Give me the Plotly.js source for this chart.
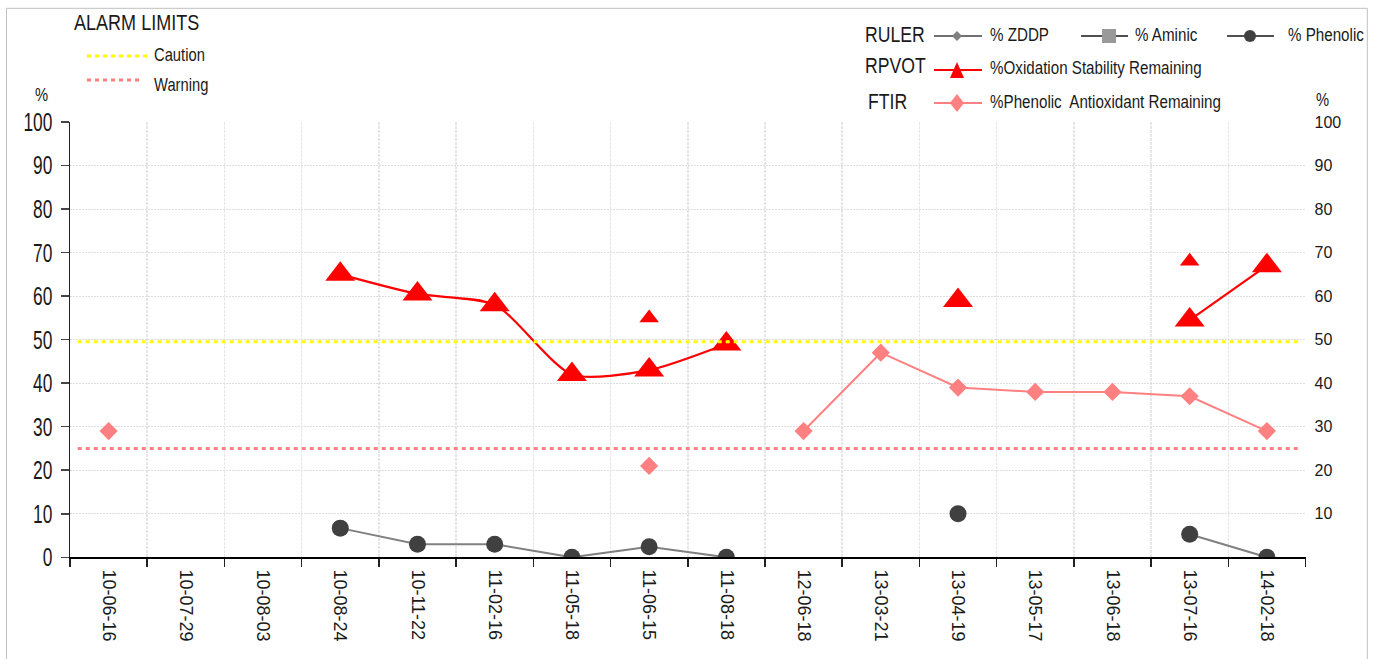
<!DOCTYPE html>
<html><head><meta charset="utf-8">
<script src="https://cdn.plot.ly/plotly-3.0.1.min.js"></script>
<style>html,body{margin:0;padding:0;background:#fff;} #chart{width:1376px;height:659px;}</style>
</head><body><div id="chart"></div>
<script>
// ---- data ----
const dates = ["10-06-16","10-07-29","10-08-03","10-08-24","10-11-22","11-02-16","11-05-18","11-06-15","11-08-18","12-06-18","13-03-21","13-04-19","13-05-17","13-06-18","13-07-16","14-02-18"];
const rpvotOxidation = [null,null,null,65,60.5,58,42,43,49,null,null,59,null,null,54.5,67];
const rpvotRepeat    = [null,null,null,null,null,null,null,55,null,null,null,null,null,null,68,null];
const ftirPhenolic   = [29,null,null,null,null,null,null,21,null,29,47,39,38,38,37,29];
const rulerPhenolic  = [null,null,null,6.7,3,3,0,2.4,0,null,null,10,null,null,5.3,0];
const rulerZDDP      = [null,null,null,null,null,null,null,null,null,null,null,null,null,null,null,null];
const rulerAminic    = [null,null,null,null,null,null,null,null,null,null,null,null,null,null,null,null];
const cautionLimit = 49.5;
const warningLimit = 25;
const yTicksLeft  = [0,10,20,30,40,50,60,70,80,90,100];
const yTicksRight = [10,20,30,40,50,60,70,80,90,100];

// ---- layout helpers (pixel -> paper) ----
const W = 1376, H = 659;
const P = x => x / W;
const Q = y => 1 - y / H;
const SANS = '"Liberation Sans", Arial, sans-serif';
const TXT = '#1a1a1a';

const traces = [
  {x: dates, y: rulerZDDP, type:'scatter', mode:'lines+markers', yaxis:'y2', showlegend:false,
   line:{color:'#707070', width:2}, marker:{symbol:'diamond', color:'#808080', size:8}},
  {x: dates, y: rulerAminic, type:'scatter', mode:'lines+markers', yaxis:'y2', showlegend:false,
   line:{color:'#505050', width:2}, marker:{symbol:'square', color:'#999999', size:12}},
  {x: dates, y: rulerPhenolic, type:'scatter', mode:'lines+markers', showlegend:false, connectgaps:false,
   line:{color:'#808080', width:2}, marker:{symbol:'circle', color:'#404040', size:17}},
  {x: dates, y: ftirPhenolic, type:'scatter', mode:'lines+markers', showlegend:false, connectgaps:false,
   line:{color:'#FF8080', width:2}, marker:{symbol:'diamond', color:'#FF8080', size:14}},
  {x: dates, y: rpvotOxidation, type:'scatter', mode:'lines+markers', showlegend:false, connectgaps:false,
   line:{color:'#FF0000', width:2.2, shape:'spline', smoothing:0.7}, marker:{symbol:'triangle-up', color:'#FF0000', size:26}},
  {x: dates, y: rpvotRepeat, type:'scatter', mode:'markers', showlegend:false,
   marker:{symbol:'triangle-up', color:'#FF0000', size:17}}
];

const dotted = c => ({color:c, width:3, dash:'4px,4px'});
const shapes = [
  // outer frame
  {type:'rect', xref:'paper', yref:'paper', x0:P(6.5), x1:P(1367.3), y0:Q(660), y1:Q(8.3), line:{color:'#c0c0c0', width:1}, layer:'below'},
  // alarm limits
  {type:'line', xref:'x', yref:'y', x0:-0.4, x1:15.4, y0:cautionLimit, y1:cautionLimit, line:dotted('#FFFF00')},
  {type:'line', xref:'x', yref:'y', x0:-0.4, x1:15.4, y0:warningLimit, y1:warningLimit, line:dotted('#FF8080')},
  // alarm legend lines
  {type:'line', xref:'paper', yref:'paper', x0:P(87), x1:P(148), y0:Q(56), y1:Q(56), line:dotted('#FFFF00')},
  {type:'line', xref:'paper', yref:'paper', x0:P(87), x1:P(141), y0:Q(80), y1:Q(80), line:dotted('#FF8080')},
  // RULER ZDDP
  {type:'line', xref:'paper', yref:'paper', x0:P(934), x1:P(982), y0:Q(36), y1:Q(36), line:{color:'#707070', width:2}},
  {type:'path', xref:'paper', yref:'paper', path:`M${P(957)},${Q(31)} L${P(962)},${Q(36)} L${P(957)},${Q(41)} L${P(952)},${Q(36)} Z`, fillcolor:'#808080', line:{width:0}},
  // RULER Aminic
  {type:'line', xref:'paper', yref:'paper', x0:P(1081), x1:P(1128), y0:Q(36), y1:Q(36), line:{color:'#505050', width:2}},
  {type:'rect', xref:'paper', yref:'paper', x0:P(1102), x1:P(1116), y0:Q(43), y1:Q(29), fillcolor:'#999999', line:{width:0}},
  // RULER Phenolic
  {type:'line', xref:'paper', yref:'paper', x0:P(1227), x1:P(1274), y0:Q(36), y1:Q(36), line:{color:'#505050', width:2}},
  {type:'circle', xref:'paper', yref:'paper', x0:P(1244), x1:P(1256), y0:Q(42), y1:Q(30), fillcolor:'#404040', line:{width:0}},
  // RPVOT
  {type:'line', xref:'paper', yref:'paper', x0:P(934), x1:P(982), y0:Q(70), y1:Q(70), line:{color:'#FF0000', width:2}},
  {type:'path', xref:'paper', yref:'paper', path:`M${P(950)},${Q(78)} L${P(964)},${Q(78)} L${P(957)},${Q(62)} Z`, fillcolor:'#FF0000', line:{width:0}},
  // FTIR
  {type:'line', xref:'paper', yref:'paper', x0:P(934), x1:P(982), y0:Q(103), y1:Q(103), line:{color:'#FF8080', width:2}},
  {type:'path', xref:'paper', yref:'paper', path:`M${P(957)},${Q(94)} L${P(964)},${Q(103)} L${P(957)},${Q(112)} L${P(950)},${Q(103)} Z`, fillcolor:'#FF8080', line:{width:0}}
];

function txt(text, x, y, size) {
  return {text, xref:'paper', yref:'paper', x:P(x), y:Q(y), xanchor:'left', yanchor:'middle',
          showarrow:false, font:{family:SANS, size, color:TXT}};
}
const annotations = [
  txt('ALARM LIMITS', 72, 23, 22),
  txt('Caution', 152, 55, 18),
  txt('Warning', 152, 85, 18),
  txt('RULER', 863, 35, 21.5),
  txt('% ZDDP', 988, 35, 18.5),
  txt('% Aminic', 1133, 35, 18.5),
  txt('% Phenolic', 1286, 35, 18.5),
  txt('RPVOT', 863, 66, 21.5),
  txt('%Oxidation Stability Remaining', 988, 67, 18.5),
  txt('FTIR', 866, 102, 21.5),
  txt('%Phenolic\u00a0 Antioxidant Remaining', 988, 101, 18.5),
  txt('%', 33, 95, 18),
  txt('%', 1314, 100, 18)
];

const layout = {
  width: W, height: H,
  margin: {l:0, r:0, t:0, b:0},
  paper_bgcolor:'#ffffff', plot_bgcolor:'#ffffff',
  showlegend:false,
  xaxis: {
    type:'category', domain:[P(70), P(1305.5)], range:[-0.5, 15.5],
    tickson:'boundaries', ticks:'outside', ticklen:8, tickwidth:1.5, tickcolor:'#222',
    showline:true, linecolor:'#000', linewidth:1.5,
    showgrid:true, gridcolor:'#e6e6e6', gridwidth:1.5, griddash:'3px,1px',
    tickangle:90, tickfont:{family:SANS, size:18, color:TXT}, ticklabelstandoff:7,
    fixedrange:true, zeroline:false
  },
  yaxis: {
    domain:[Q(557.3), Q(122)], range:[0,100],
    tickmode:'array', tickvals:yTicksLeft, ticktext:yTicksLeft.map(String),
    ticks:'outside', ticklen:8, tickwidth:1.5, tickcolor:'#444',
    showline:true, linecolor:'#222', linewidth:1.5,
    showgrid:true, gridcolor:'#dedede', gridwidth:1, griddash:'2px,1px',
    zeroline:false, tickfont:{family:SANS, size:25.5, color:TXT},
    ticklabelstandoff:3, fixedrange:true
  },
  yaxis2: {
    overlaying:'y', side:'right', anchor:'x', range:[0,100],
    tickmode:'array', tickvals:yTicksRight, ticktext:yTicksRight.map(String),
    ticks:'', showline:false, showgrid:false, zeroline:false,
    tickfont:{family:SANS, size:16, color:TXT}, ticklabelstandoff:8, fixedrange:true
  },
  shapes, annotations
};

// horizontally condense text (narrow type, as in the reference)
function condense(el, s, fromRight) {
  const bb = el.getBBox();
  const x0 = fromRight ? bb.x + bb.width : bb.x;
  const prev = el.getAttribute('transform') || '';
  el.setAttribute('transform', prev + ` translate(${x0},0) scale(${s},1) translate(${-x0},0)`);
}

Plotly.newPlot('chart', traces, layout, {displayModeBar:false, staticPlot:true}).then(gd => {
  gd.querySelectorAll('.annotation-text').forEach(el => condense(el, 0.82, false));
  gd.querySelectorAll('g.ytick text').forEach(el => condense(el, 0.68, true));
});
</script>
</body></html>
